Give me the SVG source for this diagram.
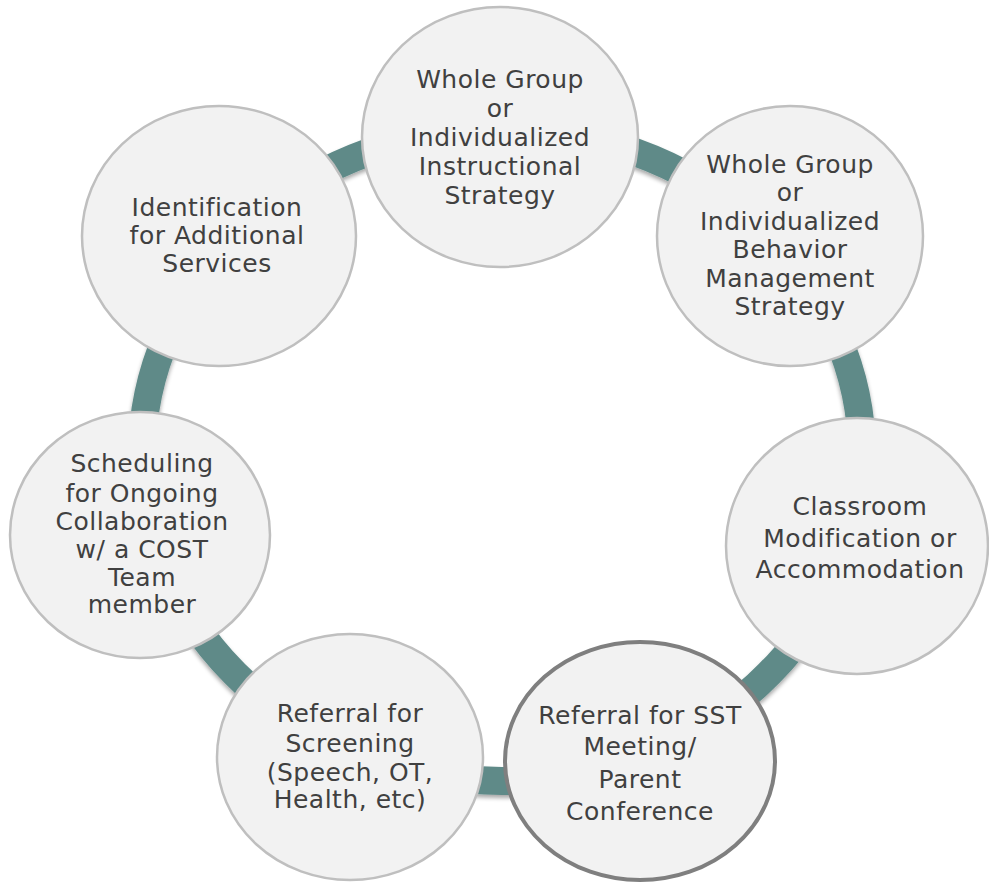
<svg xmlns="http://www.w3.org/2000/svg" width="989" height="882" viewBox="0 0 989 882">
<defs>
<filter id="sh" x="-10%" y="-10%" width="120%" height="120%">
<feGaussianBlur in="SourceAlpha" stdDeviation="2"/>
<feOffset dx="0" dy="3" result="b"/>
<feComponentTransfer><feFuncA type="linear" slope="0.35"/></feComponentTransfer>
<feMerge><feMergeNode/><feMergeNode in="SourceGraphic"/></feMerge>
</filter>
<style>
.n{fill:#f2f2f2;stroke:#bfbfbf;stroke-width:2.5}
.sel{fill:#f2f2f2;stroke:#7f7f7f;stroke-width:4}
.t{font-family:"DejaVu Sans","Liberation Sans",sans-serif;font-size:25px;fill:#404040;text-anchor:middle;letter-spacing:0.5px}
</style>
</defs>
<rect width="989" height="882" fill="#ffffff"/>
<g id="connectors">
<ellipse cx="502" cy="455" rx="360" ry="326" fill="none" stroke="#5f8a88" stroke-width="28" filter="url(#sh)"/>
</g>
<g id="n1">
<ellipse class="n" cx="500" cy="137" rx="138" ry="130"/>
<text class="t" x="500" y="88">Whole Group</text>
<text class="t" x="500" y="117">or</text>
<text class="t" x="500" y="146">Individualized</text>
<text class="t" x="500" y="175">Instructional</text>
<text class="t" x="500" y="204">Strategy</text>
</g>
<g id="n2">
<ellipse class="n" cx="790" cy="236" rx="133" ry="130"/>
<text class="t" x="790" y="173">Whole Group</text>
<text class="t" x="790" y="201">or</text>
<text class="t" x="790" y="230">Individualized</text>
<text class="t" x="790" y="258">Behavior</text>
<text class="t" x="790" y="287">Management</text>
<text class="t" x="790" y="315">Strategy</text>
</g>
<g id="n3">
<ellipse class="n" cx="857" cy="546" rx="131" ry="128"/>
<text class="t" x="860" y="515">Classroom</text>
<text class="t" x="860" y="547">Modification or</text>
<text class="t" x="860" y="578">Accommodation</text>
</g>
<g id="n4">
<ellipse class="sel" cx="640" cy="761" rx="135" ry="119"/>
<text class="t" x="640" y="724">Referral for SST</text>
<text class="t" x="640" y="755">Meeting/</text>
<text class="t" x="640" y="788">Parent</text>
<text class="t" x="640" y="820">Conference</text>
</g>
<g id="n5">
<ellipse class="n" cx="350" cy="757" rx="133" ry="123"/>
<text class="t" x="350" y="722">Referral for</text>
<text class="t" x="350" y="752">Screening</text>
<text class="t" x="350" y="781">(Speech, OT,</text>
<text class="t" x="350" y="808">Health, etc)</text>
</g>
<g id="n6">
<ellipse class="n" cx="219" cy="236" rx="137" ry="130"/>
<text class="t" x="217" y="216">Identification</text>
<text class="t" x="217" y="244">for Additional</text>
<text class="t" x="217" y="272">Services</text>
</g>
<g id="n7">
<ellipse class="n" cx="140" cy="535" rx="130" ry="123"/>
<text class="t" x="142" y="472">Scheduling</text>
<text class="t" x="142" y="502">for Ongoing</text>
<text class="t" x="142" y="530">Collaboration</text>
<text class="t" x="142" y="558">w/ a COST</text>
<text class="t" x="142" y="586">Team</text>
<text class="t" x="142" y="613">member</text>
</g>
</svg>
